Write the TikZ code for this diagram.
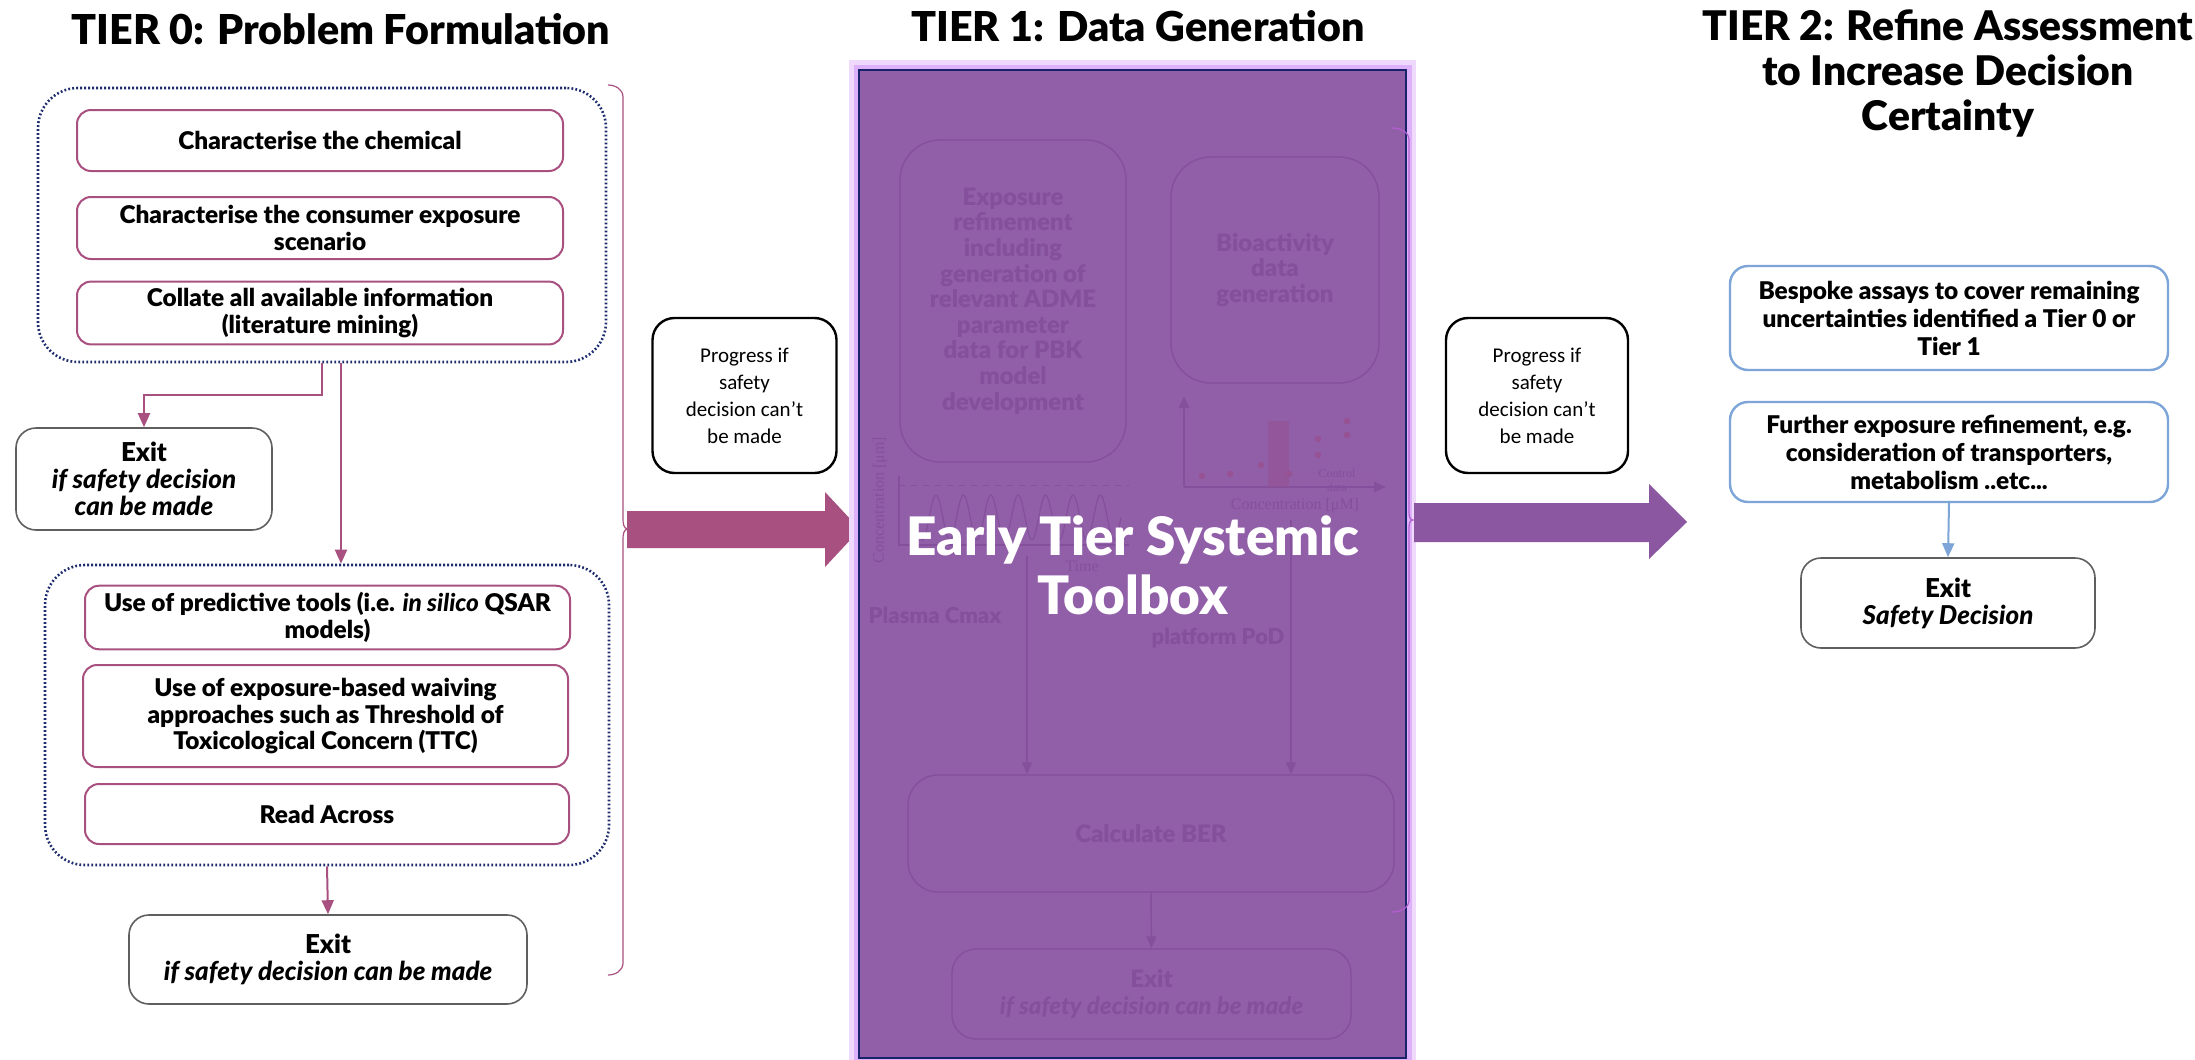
\documentclass[tikz,border=0pt]{standalone}
\usepackage{fontspec}
\IfFontExistsTF{Lato Black}
  {\setmainfont{Lato}[BoldFont={Lato Black}, BoldItalicFont={Lato Black Italic}]}
  {\setmainfont{Lato}}
\newfontfamily\calfont{Carlito}
\newfontfamily\chartfont{Liberation Serif}
\usetikzlibrary{arrows.meta}

\definecolor{tzMag}    {RGB}{168,80,128}
\definecolor{tzNavy}   {RGB}{30,45,110}
\definecolor{exitGray} {RGB}{95,95,95}
\definecolor{tbPurple} {RGB}{145,94,168}
\definecolor{tbNavy}   {RGB}{25,35,105}
\definecolor{tbFaint}  {RGB}{132,80,156}
\definecolor{tbDot}    {RGB}{150,82,146}
\definecolor{glowA}    {RGB}{240,218,252}
\definecolor{glowB}    {RGB}{222,178,250}
\definecolor{braceOne} {RGB}{178,96,208}
\definecolor{arrowTwo} {RGB}{139,87,160}
\definecolor{tTwoBlue} {RGB}{125,165,215}

\tikzset{
  tiertitle/.style={font=\bfseries\fontsize{20.6}{22.5}\selectfont, align=center},
  group/.style={draw=tzNavy, line width=1.3pt, dash pattern=on 0.9pt off 1.1pt,
                rounded corners=20pt},
  stepbox/.style={draw=tzMag, line width=1pt, rounded corners=7pt, align=center,
                  font=\bfseries\fontsize{12.2}{13.4}\selectfont, minimum width=243pt},
  exitbox/.style={draw=exitGray, line width=0.8pt, rounded corners=10pt, align=center,
                  font=\bfseries\fontsize{13}{13.6}\selectfont},
  progbox/.style={draw=black, line width=1.2pt, rounded corners=11pt, align=center,
                  font=\calfont\fontsize{10.5}{13.5}\selectfont,
                  minimum width=92pt, minimum height=77.5pt},
  flow/.style={draw=tzMag, line width=1pt, -{Triangle[width=6pt,length=7pt]}},
  faintbox/.style={draw=tbFaint, line width=0.7pt, align=center, text=tbFaint,
                   font=\bfseries\fontsize{12}{12.8}\selectfont},
  faintflow/.style={draw=tbFaint, line width=0.7pt, -{Triangle[width=5pt,length=6pt]}},
  faintlbl/.style={text=tbFaint, inner sep=0pt, font=\bfseries\fontsize{11}{13}\selectfont},
  chartlbl/.style={text=tbFaint, inner sep=0pt, font=\chartfont\fontsize{8}{8}\selectfont},
  bluebox/.style={draw=tTwoBlue, line width=1.2pt, rounded corners=9pt, align=center,
                  font=\bfseries\fontsize{12.2}{14}\selectfont, minimum width=219pt},
  blueflow/.style={draw=tTwoBlue, line width=1pt, -{Triangle[width=6pt,length=7pt]}},
}

\begin{document}
\begin{tikzpicture}[x=0.5pt, y=-0.5pt]
  \useasboundingbox[fill=white] (0,0) rectangle (2195,1060);

  % tier titles
  \node[tiertitle] (t0title) at (341,29) {TIER 0: Problem Formulation};
  \node[tiertitle] (t1title) at (1138,26) {TIER 1: Data Generation};
  \node[tiertitle, font=\bfseries\fontsize{20.4}{22.5}\selectfont] (t2title) at (1948,73)
       {TIER 2: Refine Assessment\\to Increase Decision\\Certainty};

  % tier 0
  \node[group, minimum width=284pt, minimum height=137pt] (grpA) at (322,225) {};
  \node[stepbox, minimum height=30.5pt] (chem) at (320,140.5)
       {Characterise the chemical};
  \node[stepbox, minimum height=31pt] (scen) at (320,228)
       {Characterise the consumer exposure\\scenario};
  \node[stepbox, minimum height=30pt] (lit) at (320,313)
       {Collate all available information\\(literature mining)};

  \node[exitbox, minimum width=128pt, minimum height=51pt] (exitA) at (144,479)
       {Exit\\\textit{if safety decision}\\\textit{can be made}};

  \node[group, minimum width=282pt, minimum height=150pt] (grpB) at (327,715) {};
  \node[stepbox, minimum width=242.5pt, minimum height=30.5pt] (qsar) at (327.5,617.5)
       {Use of predictive tools (i.e. \textit{in silico} QSAR\\models)};
  \node[stepbox, minimum width=242.5pt, minimum height=51pt] (ttc) at (325.5,716)
       {Use of exposure-based waiving\\approaches such as Threshold of\\Toxicological Concern (TTC)};
  \node[stepbox, minimum width=242pt, minimum height=30pt] (rax) at (327,814)
       {Read Across};

  \node[exitbox, minimum width=199pt, minimum height=44.5pt] (exitB) at (328,959.5)
       {Exit\\\textit{if safety decision can be made}};

  \draw[flow] (grpA.south) -- ++(0,32) -| (exitA.north);
  \draw[flow] ([xshift=9.5pt]grpA.south) -- ([xshift=9.5pt]grpA.south |- grpB.north);
  \draw[flow] (grpB.south) -- (exitB.north);

  \draw[tzMag, line width=0.6pt] (608,85) to[out=0,in=90] (623,97) -- (623,518)
       to[out=-90,in=180] (628,529) to[out=180,in=90] (623,540) -- (623,963)
       to[out=-90,in=0] (608,975);

  \node[progbox] (progA) at (744.5,395.5) {Progress if\\safety\\decision can’t\\be made};
  \fill[tzMag] (627,511) -- (825,511) -- (825,492) -- (860,529.5) -- (825,567)
       -- (825,548) -- (627,548) -- cycle;

  % tier 1 toolbox
  \node[fill=tbPurple, draw=tbNavy, line width=1pt, minimum width=273.5pt,
        minimum height=494pt, inner sep=0pt,
        preaction={draw=glowA, line width=10pt},
        preaction={draw=glowB, line width=5.5pt}] (toolbox) at (1132.5,564) {};

  \node[faintbox, minimum width=113pt, minimum height=161pt, rounded corners=20pt]
       (expo) at (1013,301)
       {Exposure\\refinement\\including\\generation of\\relevant ADME\\parameter\\data for PBK\\model\\development};
  \node[faintbox, minimum width=104pt, minimum height=113pt, rounded corners=20pt]
       (bio) at (1275,270) {Bioactivity\\data\\generation};

  % plasma curve
  \draw[tbFaint, line width=0.7pt] (899,476) -- (899,545) -- (1129,545);
  \draw[tbFaint, line width=0.5pt, dashed] (899,485) -- (1129,485);
  \draw[tbFaint, line width=0.6pt] plot[domain=916:1121, samples=160]
       (\x, {517.5 - 22.5*cos((\x-936)/27.4*360)});
  \node[chartlbl, rotate=90] (concA) at (880,500) {Concentration [μm]};
  \node[chartlbl] (timeA) at (1082,566) {Time};

  % bioactivity curve
  \draw[tbFaint, line width=1.2pt, -{Triangle[width=5pt,length=6pt]}] (1184,487) -- (1184,396);
  \draw[tbFaint, line width=1.2pt, -{Triangle[width=5pt,length=6pt]}] (1184,487) -- (1386,487);
  \fill[tbDot, opacity=0.6] (1268,421) rectangle (1289,487);
  \draw[tbDot, line width=0.5pt, dotted] (1188,473) -- (1372,473);
  \draw[tbDot, line width=0.5pt, dotted] (1188,481) -- (1372,481);
  \foreach \dx/\dy in {1202/476, 1230/474, 1261/465, 1289/474,
                       1318/439, 1318/455, 1347/421, 1347/435}
    \fill[tbDot] (\dx,\dy) circle (1.6pt);
  \node[chartlbl, align=center, font=\chartfont\fontsize{6}{7}\selectfont] (ctrl) at (1337,480)
       {Control\\data};
  \node[chartlbl] (concB) at (1295,506) {Concentration [μM]};

  \node[faintlbl] (cmax) at (935,615) {Plasma Cmax};
  \node[faintlbl] (pod) at (1218,638) {platform PoD};

  \node[faintbox, minimum width=243pt, minimum height=58.5pt, rounded corners=15pt]
       (ber) at (1151,833.5) {Calculate BER};
  \node[faintbox, minimum width=199.5pt, minimum height=45pt, rounded corners=12pt,
        font=\bfseries\fontsize{12}{13.3}\selectfont]
       (exitC) at (1151.5,994) {Exit\\\textit{if safety decision can be made}};

  \coordinate (cmaxTop) at (1027,556);
  \coordinate (podTop) at (1291,520);
  \draw[faintflow] (cmaxTop) -- (cmaxTop |- ber.north);
  \draw[faintflow] (podTop) -- (podTop |- ber.north);
  \draw[faintflow] (ber.south) -- (exitC.north);

  \node[text=white, align=center, inner sep=0pt,
        font=\bfseries\fontsize{26.5}{29.5}\selectfont]
       (tbname) at (1133,565) {Early Tier Systemic\\Toolbox};

  \draw[braceOne, line width=0.6pt] (1392,128) to[out=0,in=90] (1409,140) -- (1409,510)
       to[out=-90,in=180] (1413,520) to[out=180,in=90] (1409,530) -- (1409,900)
       to[out=-90,in=0] (1392,912);

  % tier 2
  \node[progbox, minimum width=91pt] (progB) at (1537,395.5)
       {Progress if\\safety\\decision can’t\\be made};
  \fill[arrowTwo] (1414,503) -- (1649,503) -- (1649,484) -- (1687,522) -- (1649,559)
       -- (1649,542) -- (1414,542) -- cycle;

  \node[bluebox, minimum height=52pt] (bespoke) at (1949,318)
       {Bespoke assays to cover remaining\\uncertainties identified a Tier 0 or\\Tier 1};
  \node[bluebox, minimum height=50pt] (further) at (1949,452)
       {Further exposure refinement, e.g.\\consideration of transporters,\\metabolism ..etc...};
  \node[exitbox, minimum width=147pt, minimum height=45pt] (exitD) at (1948,603)
       {Exit\\\textit{Safety Decision}};
  \draw[blueflow] (further.south) -- (exitD.north);
\end{tikzpicture}
\end{document}
